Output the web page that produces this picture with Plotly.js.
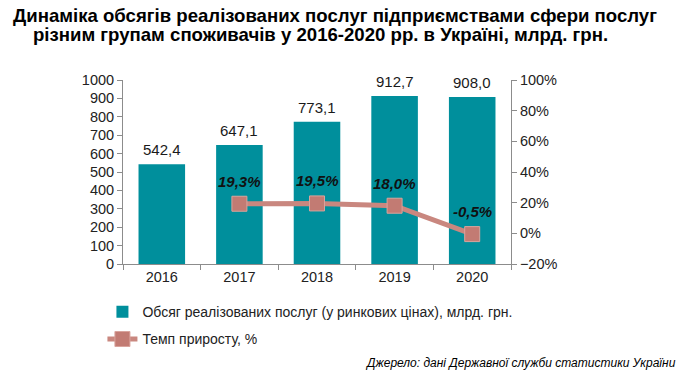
<!DOCTYPE html>
<html>
<head>
<meta charset="utf-8">
<script src="https://cdn.plot.ly/plotly-3.0.1.min.js"></script>
<style>html,body{margin:0;padding:0;background:#fff;}#chart{width:684px;height:377px;}</style>
</head>
<body>
<div id="chart"></div>
<script>
var years = ['2016', '2017', '2018', '2019', '2020'];
var volumes = [542.4, 647.1, 773.1, 912.7, 908.0];
var growthYears = ['2017', '2018', '2019', '2020'];
var growth = [19.3, 19.5, 18.0, -0.5];
var seriesNames = ['Обсяг реалізованих послуг (у ринкових цінах), млрд. грн.', 'Темп приросту, %'];
var titleLines = ['Динаміка обсягів реалізованих послуг підприємствами сфери послуг', 'різним групам споживачів у 2016-2020 рр. в Україні, млрд. грн.'];
var sourceText = 'Джерело: дані Державної служби статистики України';

function fmt(v) { return v.toFixed(1).replace('.', ','); }

var font = 'Arial, "Liberation Sans", sans-serif';

var traces = [
  {
    type: 'bar', x: years, y: volumes, name: seriesNames[0],
    marker: {color: '#008F9C'}, legendgroup: 'a', hoverinfo: 'skip'
  },
  {
    type: 'scatter', mode: 'lines+markers', x: growthYears, y: growth, yaxis: 'y2',
    name: seriesNames[1], legendgroup: 'b',
    line: {color: '#C9877F', width: 5},
    marker: {symbol: 'square', size: 15, color: '#C27B73', line: {color: '#D9A49D', width: 1}},
    hoverinfo: 'skip'
  }
];

var annotations = [];
years.forEach(function (y, i) {
  annotations.push({
    x: years.indexOf(y), y: volumes[i], xref: 'x', yref: 'y', text: fmt(volumes[i]),
    showarrow: false, yanchor: 'bottom', yshift: 4,
    font: {family: font, size: 15, color: '#1a1a1a'}
  });
});
growthYears.forEach(function (y, i) {
  annotations.push({
    x: years.indexOf(y), y: growth[i], xref: 'x', yref: 'y2', text: '<b><i>' + fmt(growth[i]) + '%</i></b>',
    showarrow: false, yanchor: 'bottom', yshift: 12,
    font: {family: font, size: 15, color: '#111'}
  });
});
annotations.push({
  xref: 'paper', yref: 'paper', x: 0.546, y: 1.353, xanchor: 'center', yanchor: 'middle',
  text: '<b>' + titleLines[0] + '</b>', showarrow: false,
  font: {family: font, size: 18.6, color: '#000'}
});
annotations.push({
  xref: 'paper', yref: 'paper', x: 0.51, y: 1.245, xanchor: 'center', yanchor: 'middle',
  text: '<b>' + titleLines[1] + '</b>', showarrow: false,
  font: {family: font, size: 18.6, color: '#000'}
});
annotations.push({
  xref: 'paper', yref: 'paper', x: 1.43, y: -0.54, xanchor: 'right', yanchor: 'middle',
  text: '<i>' + sourceText + '</i>', showarrow: false,
  font: {family: font, size: 12, color: '#000'}
});

var layout = {
  width: 684, height: 377,
  margin: {l: 123, r: 173, t: 80, b: 113},
  paper_bgcolor: '#fff', plot_bgcolor: '#fff',
  showlegend: true,
  bargap: 0.4,
  font: {family: font, size: 14, color: '#222'},
  xaxis: {
    type: 'category', categoryorder: 'array', categoryarray: years, range: [-0.5, 4.5],
    autorange: false,
    showline: true, linecolor: '#8c8c8c', linewidth: 1,
    ticks: 'outside', tickson: 'boundaries', ticklen: 5, tickcolor: '#8c8c8c',
    showgrid: false, zeroline: false, tickfont: {family: font, size: 14.5, color: '#222'}
  },
  yaxis: {
    range: [0, 1000], dtick: 100, showline: true, linecolor: '#8c8c8c',
    ticks: 'outside', ticklen: 5, tickcolor: '#8c8c8c', showgrid: false, zeroline: false,
    tickfont: {family: font, size: 14.5, color: '#222'}
  },
  yaxis2: {
    overlaying: 'y', side: 'right', range: [-20, 100], dtick: 20, ticksuffix: '%',
    showline: true, linecolor: '#8c8c8c', ticks: 'outside', ticklen: 5, tickcolor: '#8c8c8c',
    showgrid: false, zeroline: false, tickfont: {family: font, size: 14.5, color: '#222'}
  },
  legend: {
    orientation: 'v', x: -0.053, xanchor: 'left', y: -0.175, yanchor: 'top',
    traceorder: 'grouped', tracegroupgap: 6,
    font: {family: font, size: 14, color: '#222'}, bgcolor: 'rgba(0,0,0,0)'
  },
  annotations: annotations
};

Plotly.newPlot('chart', traces, layout, {displayModeBar: false, staticPlot: true});
</script>
</body>
</html>
